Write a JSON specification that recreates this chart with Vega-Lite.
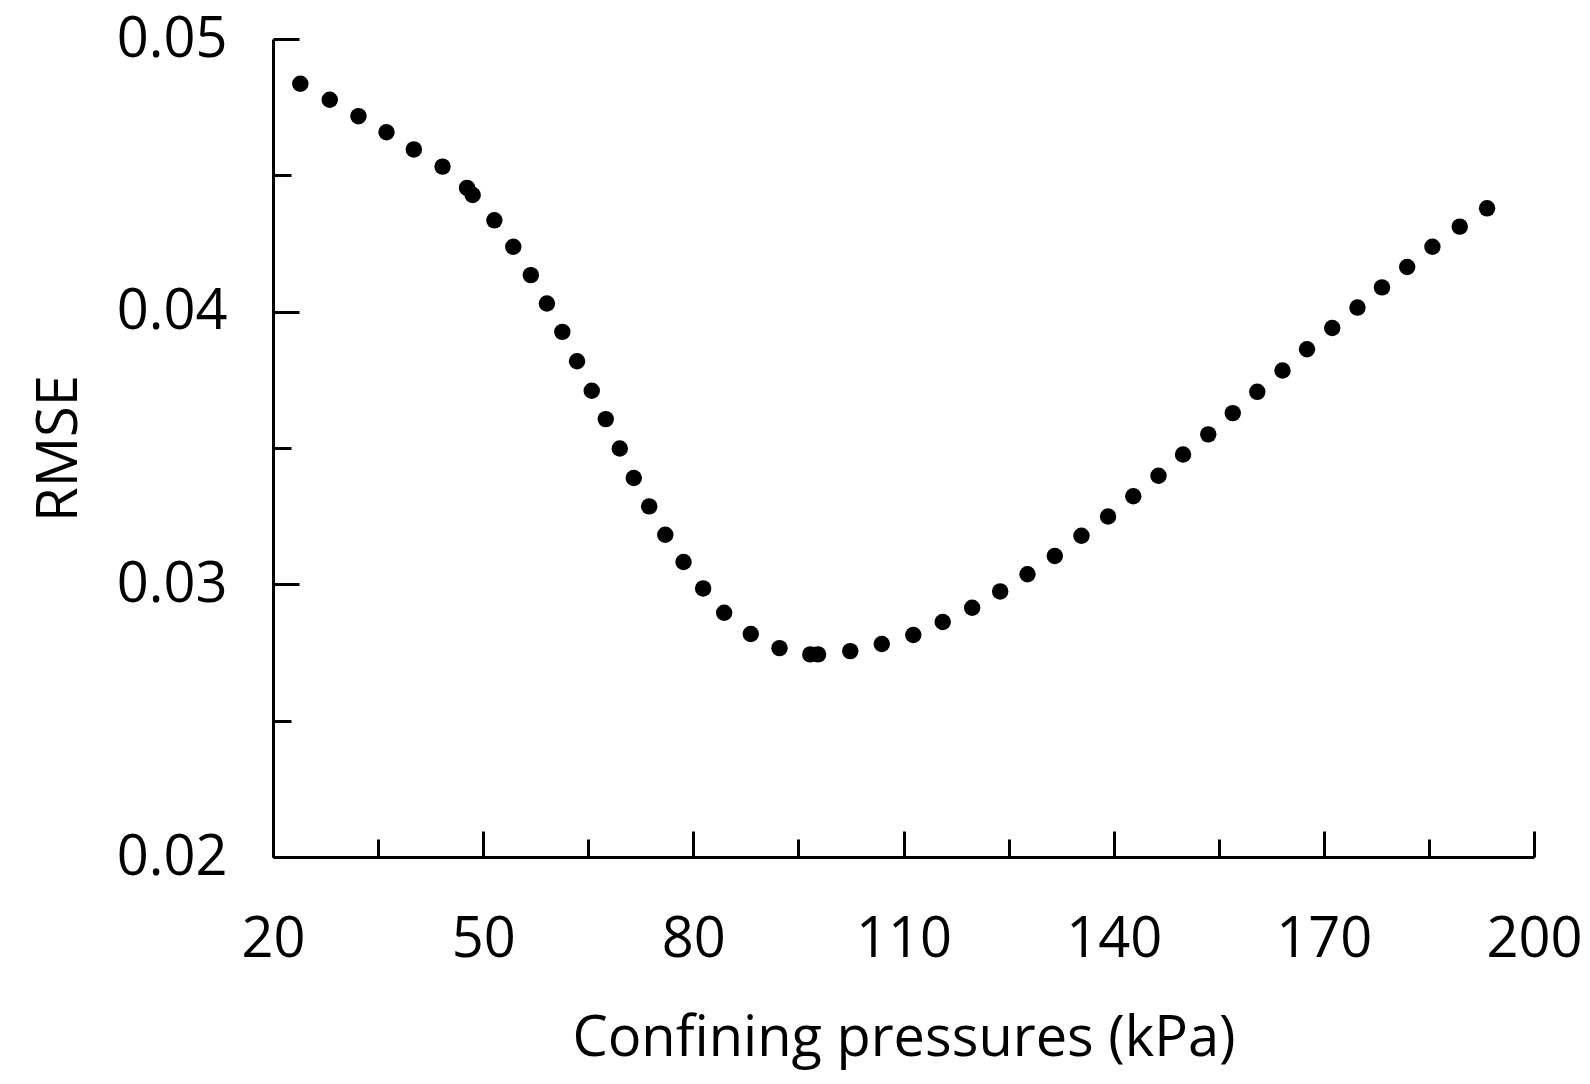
{
  "$schema": "https://vega.github.io/schema/vega-lite/v6.json",
  "description": "RMSE against confining pressure",
  "width": 1261,
  "height": 818,
  "autosize": {"type": "none"},
  "padding": {"left": 273, "top": 39, "right": 56, "bottom": 227},
  "background": "white",
  "config": {
    "view": {"stroke": null},
    "font": "Open Sans",
    "axis": {
      "domainColor": "black",
      "domainWidth": 3,
      "tickColor": "black",
      "tickWidth": 3,
      "grid": false,
      "labelFont": "Open Sans",
      "labelFontSize": 56,
      "labelColor": "black",
      "titleFont": "Open Sans",
      "titleFontSize": 56,
      "titleFontWeight": "normal",
      "titleColor": "black"
    }
  },
  "data": {
    "values": [
      {"p": 23.9, "rmse": 0.04836},
      {"p": 28.1, "rmse": 0.04777},
      {"p": 32.2, "rmse": 0.04717},
      {"p": 36.2, "rmse": 0.04658},
      {"p": 40.1, "rmse": 0.04595},
      {"p": 44.2, "rmse": 0.04532},
      {"p": 47.7, "rmse": 0.04454},
      {"p": 48.5, "rmse": 0.04428},
      {"p": 51.6, "rmse": 0.04335},
      {"p": 54.3, "rmse": 0.04238},
      {"p": 56.8, "rmse": 0.04134},
      {"p": 59.1, "rmse": 0.0403},
      {"p": 61.3, "rmse": 0.03926},
      {"p": 63.4, "rmse": 0.03818},
      {"p": 65.5, "rmse": 0.0371},
      {"p": 67.5, "rmse": 0.03606},
      {"p": 69.5, "rmse": 0.03498},
      {"p": 71.5, "rmse": 0.0339},
      {"p": 73.7, "rmse": 0.03286},
      {"p": 76.0, "rmse": 0.03182},
      {"p": 78.6, "rmse": 0.03082},
      {"p": 81.4, "rmse": 0.02985},
      {"p": 84.4, "rmse": 0.02896},
      {"p": 88.2, "rmse": 0.02818},
      {"p": 92.3, "rmse": 0.02766},
      {"p": 96.7, "rmse": 0.02743},
      {"p": 97.8, "rmse": 0.02743},
      {"p": 102.4, "rmse": 0.02755},
      {"p": 106.9, "rmse": 0.02781},
      {"p": 111.4, "rmse": 0.02814},
      {"p": 115.6, "rmse": 0.02862},
      {"p": 119.8, "rmse": 0.02914},
      {"p": 123.8, "rmse": 0.02974},
      {"p": 127.7, "rmse": 0.03037},
      {"p": 131.6, "rmse": 0.03104},
      {"p": 135.4, "rmse": 0.03178},
      {"p": 139.2, "rmse": 0.03249},
      {"p": 142.8, "rmse": 0.03323},
      {"p": 146.4, "rmse": 0.03398},
      {"p": 149.9, "rmse": 0.03476},
      {"p": 153.5, "rmse": 0.0355},
      {"p": 157.0, "rmse": 0.03628},
      {"p": 160.5, "rmse": 0.03706},
      {"p": 164.1, "rmse": 0.03784},
      {"p": 167.6, "rmse": 0.03862},
      {"p": 171.2, "rmse": 0.0394},
      {"p": 174.8, "rmse": 0.04015},
      {"p": 178.3, "rmse": 0.04089},
      {"p": 181.9, "rmse": 0.04164},
      {"p": 185.5, "rmse": 0.04238},
      {"p": 189.4, "rmse": 0.04312},
      {"p": 193.3, "rmse": 0.04379}
    ]
  },
  "mark": {"type": "point", "shape": "circle", "filled": true, "color": "black", "opacity": 1, "size": 270},
  "encoding": {
    "x": {
      "field": "p",
      "type": "quantitative",
      "scale": {"domain": [20, 200], "nice": false, "zero": false},
      "axis": {
        "title": "Confining pressures (kPa)",
        "values": [20, 35, 50, 65, 80, 95, 110, 125, 140, 155, 170, 185, 200],
        "labelExpr": "datum.value % 30 == 20 ? datum.label : ''",
        "tickSize": {"condition": {"test": "datum.value % 30 == 20", "value": -26}, "value": -18},
        "labelPadding": 81,
        "labelFlush": false,
        "labelOverlap": false,
        "titleBaseline": "alphabetic",
        "titleY": 198
      }
    },
    "y": {
      "field": "rmse",
      "type": "quantitative",
      "scale": {"domain": [0.02, 0.05], "nice": false, "zero": false},
      "axis": {
        "title": "RMSE",
        "values": [0.02, 0.025, 0.03, 0.035, 0.04, 0.045, 0.05],
        "labelExpr": "round(datum.value * 1000) % 10 == 0 ? format(datum.value, '.2f') : ''",
        "tickSize": {"condition": {"test": "round(datum.value * 1000) % 10 == 0", "value": -26}, "value": -18},
        "labelPadding": 72,
        "labelFlush": false,
        "labelOverlap": false,
        "titleBaseline": "alphabetic",
        "titleX": -197
      }
    }
  }
}
